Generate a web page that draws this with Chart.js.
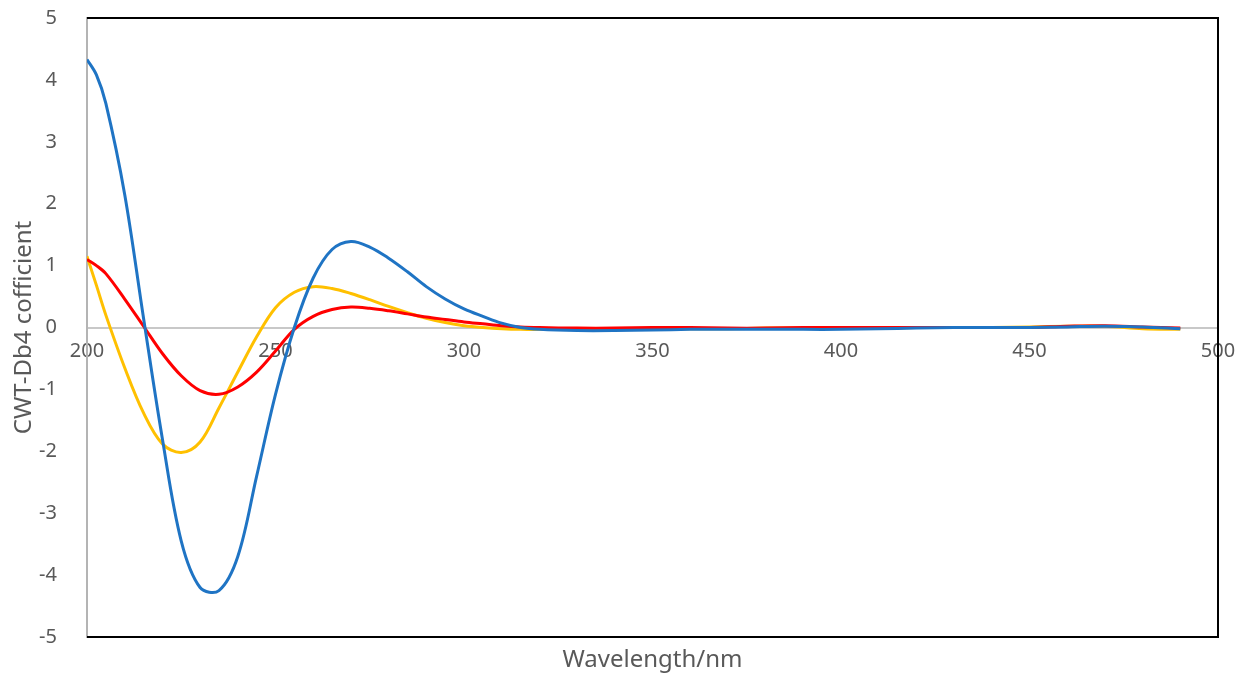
<!DOCTYPE html>
<html>
<head>
<meta charset="utf-8">
<script src="https://cdn.jsdelivr.net/npm/chart.js@4"></script>
<style>
  html, body { margin: 0; padding: 0; background: #fff; }
  #wrap { width: 1248px; height: 682px; }
</style>
</head>
<body>
<div id="wrap"><canvas id="cwtChart"></canvas></div>
<script>
// Data for the chart
const wavelengths = [200, 202.5, 205, 210, 215, 220, 225, 230, 235, 240, 245, 250, 255, 260, 265, 270, 275, 280, 285, 290, 295, 300, 305, 310, 315, 320,
  330, 340, 350, 360, 370, 380, 390, 400, 410, 420, 430, 440, 450, 460, 470, 480, 490];

const blueData = [4.33, 4.08, 3.62, 2.15, 0.15, -1.8, -3.45, -4.2, -4.25, -3.7, -2.4, -1.08, 0.0, 0.8, 1.26, 1.39, 1.3, 1.12, 0.9, 0.66, 0.46, 0.3, 0.18, 0.07, 0.0, -0.03,
  -0.05, -0.05, -0.04, -0.03, -0.03, -0.03, -0.03, -0.03, -0.02, -0.01, 0.0, 0.0, 0.0, 0.01, 0.02, 0.01, -0.02];
const redData = [1.1, 1.0, 0.87, 0.46, 0.02, -0.42, -0.78, -1.02, -1.08, -0.96, -0.72, -0.38, -0.03, 0.18, 0.29, 0.33, 0.31, 0.27, 0.22, 0.17, 0.13, 0.09, 0.06, 0.03, 0.01, 0.0,
  -0.01, -0.01, 0.0, 0.0, -0.01, -0.01, 0.0, 0.0, 0.0, 0.0, 0.0, 0.0, 0.0, 0.02, 0.03, 0.01, -0.01];
const yellowData = [1.15, 0.68, 0.2, -0.65, -1.38, -1.88, -2.02, -1.85, -1.3, -0.72, -0.15, 0.32, 0.57, 0.66, 0.63, 0.55, 0.45, 0.34, 0.24, 0.15, 0.08, 0.03, 0.0, -0.02, -0.03, -0.03,
  -0.03, -0.02, -0.02, -0.02, -0.02, -0.01, -0.01, -0.01, -0.01, 0.0, 0.0, 0.0, 0.01, 0.02, 0.02, -0.02, -0.03];

const xTicks = [200, 250, 300, 350, 400, 450, 500];
const yTicks = [-5, -4, -3, -2, -1, 0, 1, 2, 3, 4, 5];

const textColor = '#595959';
const fontFamily = "'Noto Sans', 'Liberation Sans', sans-serif";

function toPoints(values) {
  return values.map((v, i) => ({ x: wavelengths[i], y: v }));
}

function makeSeries(label, values, color) {
  return {
    label: label,
    data: toPoints(values),
    borderColor: color,
    backgroundColor: color,
    borderWidth: 3,
    pointRadius: 0,
    tension: 0.35,
    fill: false
  };
}

// black frame on top, right and bottom of the plot area
const frame = {
  id: 'frame',
  afterDraw(chart) {
    const { ctx, chartArea: a } = chart;
    ctx.save();
    ctx.strokeStyle = '#000';
    ctx.lineWidth = 2;
    ctx.beginPath();
    ctx.moveTo(a.left, a.top);
    ctx.lineTo(a.right, a.top);
    ctx.lineTo(a.right, a.bottom);
    ctx.lineTo(a.left, a.bottom);
    ctx.stroke();
    ctx.restore();
  }
};

new Chart(document.getElementById('cwtChart'), {
  type: 'line',
  data: {
    datasets: [
      makeSeries('Series 1', blueData, '#1f74c4'),
      makeSeries('Series 2', redData, '#ff0000'),
      makeSeries('Series 3', yellowData, '#ffc000')
    ]
  },
  options: {
    responsive: true,
    maintainAspectRatio: false,
    animation: false,
    layout: { padding: { left: 10, right: 30, top: 18, bottom: 7 } },
    plugins: {
      legend: { display: false },
      tooltip: { enabled: false }
    },
    scales: {
      x: {
        type: 'linear',
        position: { y: 0 },
        min: 200,
        max: 500,
        afterBuildTicks: (scale) => { scale.ticks = xTicks.map(v => ({ value: v })); },
        grid: { display: false },
        border: { color: '#c8c8c8', width: 2 },
        ticks: { color: textColor, font: { family: fontFamily, size: 20 }, padding: 4, maxRotation: 0 }
      },
      xBottom: {
        type: 'linear',
        position: 'bottom',
        min: 200,
        max: 500,
        grid: { display: false },
        border: { display: false },
        ticks: { display: false },
        title: { display: true, text: 'Wavelength/nm', color: textColor, font: { family: fontFamily, size: 24 }, padding: 0 },
        afterFit: (scale) => { scale.height = 38; }
      },
      y: {
        min: -5,
        max: 5,
        afterBuildTicks: (scale) => { scale.ticks = yTicks.map(v => ({ value: v })); },
        grid: { display: false },
        border: { color: '#b4b4b4', width: 2 },
        ticks: { color: textColor, font: { family: fontFamily, size: 20 }, padding: 22 },
        title: { display: true, text: 'CWT-Db4 cofficient', color: textColor, font: { family: fontFamily, size: 24 }, padding: 0 },
        afterFit: (scale) => {
          scale.width = 77;
          scale.paddingTop = 0;
          scale.paddingBottom = 0;
        }
      }
    }
  },
  plugins: [frame]
});
</script>
</body>
</html>
